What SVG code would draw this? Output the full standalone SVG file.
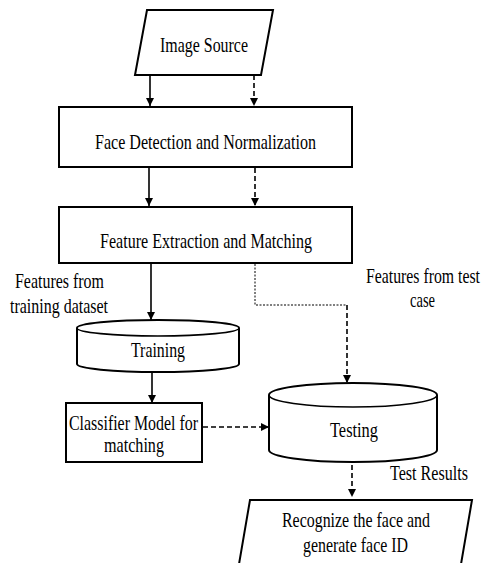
<svg xmlns="http://www.w3.org/2000/svg" width="483" height="563" viewBox="0 0 483 563">
<defs>
<marker id="ah" viewBox="0 0 10 10" refX="10" refY="5" markerWidth="8" markerHeight="8" markerUnits="userSpaceOnUse" orient="auto">
<path d="M0,0 L10,5 L0,10 Z" fill="#000"/>
</marker>
</defs>
<style>
.box{fill:#fff;stroke:#000;stroke-width:2}
.t{font-family:"Liberation Serif","DejaVu Serif",serif;font-size:22px;fill:#000;text-anchor:middle}
.c{fill:none;stroke:#000;stroke-width:1.6}
.d{stroke-dasharray:5 3}
.dot{stroke-width:1;stroke-dasharray:2 1.5}
</style>
<rect width="483" height="563" fill="#fff"/>
<g id="connectors">
<line class="c" x1="150" y1="75" x2="150" y2="106" marker-end="url(#ah)"/>
<line class="c d" x1="254" y1="75" x2="254" y2="106" marker-end="url(#ah)"/>
<line class="c" x1="149" y1="168" x2="149" y2="206" marker-end="url(#ah)"/>
<line class="c d" x1="255" y1="168" x2="255" y2="206" marker-end="url(#ah)"/>
<line class="c" x1="151" y1="264" x2="151" y2="320" marker-end="url(#ah)"/>
<polyline class="c dot" points="255,264 255,305 347,305"/>
<line class="c d" x1="347" y1="305" x2="347" y2="383" stroke-dasharray="6 4" marker-end="url(#ah)"/>
<line class="c" x1="152" y1="372" x2="152" y2="403" marker-end="url(#ah)"/>
<line class="c d" x1="203" y1="427" x2="269" y2="427" marker-end="url(#ah)"/>
<line class="c d" x1="352" y1="465" x2="352" y2="497" marker-end="url(#ah)"/>
</g>
<g id="image-source">
<polygon class="box" points="147,10 273,10 261,75 135,75"/>
<text class="t" x="204" y="52" textLength="88" lengthAdjust="spacingAndGlyphs">Image Source</text>
</g>
<g id="face-detection">
<rect class="box" x="59" y="107" width="293" height="60"/>
<text class="t" x="205.5" y="149" textLength="221" lengthAdjust="spacingAndGlyphs">Face Detection and Normalization</text>
</g>
<g id="feature-extraction">
<rect class="box" x="59" y="207" width="293" height="56"/>
<text class="t" x="206" y="248" textLength="212" lengthAdjust="spacingAndGlyphs">Feature Extraction and Matching</text>
</g>
<g id="label-train">
<text class="t" x="59.5" y="288" textLength="89" lengthAdjust="spacingAndGlyphs">Features from</text>
<text class="t" x="59" y="313" textLength="98" lengthAdjust="spacingAndGlyphs">training dataset</text>
</g>
<g id="label-test">
<text class="t" x="423" y="283" textLength="114" lengthAdjust="spacingAndGlyphs">Features from test</text>
<text class="t" x="422.5" y="307" textLength="25" lengthAdjust="spacingAndGlyphs">case</text>
</g>
<g id="training">
<path class="box" d="M77,328 L77,364 A81,8 0 0 0 239,364 L239,328 A81,8 0 0 0 77,328 Z"/>
<path class="c" d="M77,328 A81,8 0 0 0 239,328" stroke-width="2"/>
<text class="t" x="158" y="357" textLength="54" lengthAdjust="spacingAndGlyphs">Training</text>
</g>
<g id="classifier">
<rect class="box" x="66" y="403" width="136" height="59"/>
<text class="t" x="133.5" y="430" textLength="129" lengthAdjust="spacingAndGlyphs">Classifier Model for</text>
<text class="t" x="134" y="452" textLength="60" lengthAdjust="spacingAndGlyphs">matching</text>
</g>
<g id="testing">
<path class="box" d="M269,395 L269,450 A84,12 0 0 0 437,450 L437,395 A84,12 0 0 0 269,395 Z"/>
<path class="c" d="M269,395 A84,12 0 0 0 437,395" stroke-width="2"/>
<text class="t" x="354" y="437" textLength="48" lengthAdjust="spacingAndGlyphs">Testing</text>
</g>
<g id="label-results">
<text class="t" x="429" y="480" textLength="78" lengthAdjust="spacingAndGlyphs">Test Results</text>
</g>
<g id="recognize">
<polygon class="box" points="250,500 472,500 460,570 238,570"/>
<text class="t" x="356" y="527" textLength="148" lengthAdjust="spacingAndGlyphs">Recognize the face and</text>
<text class="t" x="355.5" y="552" textLength="105" lengthAdjust="spacingAndGlyphs">generate face ID</text>
</g>
</svg>
